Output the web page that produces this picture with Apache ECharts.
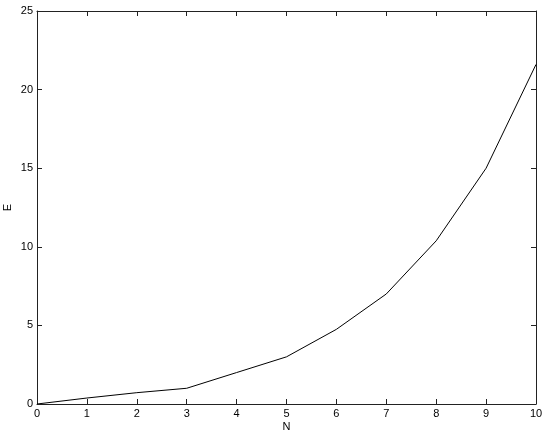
<!DOCTYPE html>
<html>
<head>
<meta charset="utf-8">
<script src="https://cdn.jsdelivr.net/npm/echarts@6/dist/echarts.min.js"></script>
<style>
  html, body { margin: 0; padding: 0; background: #fff; }
  #chart { width: 545px; height: 436px; }
</style>
</head>
<body>
<div id="chart"></div>
<script>
// values
var nValues = [0, 1, 2, 3, 4, 5, 6, 7, 8, 9, 10];
var eValues = [0, 0.38, 0.72, 1.0, 2.0, 3.0, 4.75, 7.0, 10.38, 15.0, 21.6];

var points = nValues.map(function (n, i) { return [n, eValues[i]]; });

var chart = echarts.init(document.getElementById('chart'));

var axisCommon = {
  type: 'value',
  axisLine: { show: true, onZero: false, lineStyle: { color: '#222', width: 1 } },
  axisTick: { show: true, inside: true, length: 5, lineStyle: { color: '#222' } },
  splitLine: { show: false },
  axisLabel: { color: '#000', fontFamily: 'Liberation Sans', fontSize: 11 }
};

chart.setOption({
  animation: false,
  grid: { left: 37, right: 9, top: 11, bottom: 32, containLabel: false, outerBoundsMode: 'none' },
  xAxis: [
    Object.assign({}, axisCommon, {
      min: 0, max: 10, interval: 1, position: 'bottom',
      name: 'N', nameLocation: 'middle', nameGap: 17, nameMoveOverlap: false,
      nameTextStyle: { color: '#000', fontFamily: 'Liberation Sans', fontSize: 11 },
      axisLabel: Object.assign({}, axisCommon.axisLabel, { margin: 4 })
    }),
    Object.assign({}, axisCommon, {
      min: 0, max: 10, interval: 1, position: 'top',
      axisLabel: { show: false }
    })
  ],
  yAxis: [
    Object.assign({}, axisCommon, {
      min: 0, max: 25, interval: 5, position: 'left',
      name: 'E', nameLocation: 'middle', nameGap: 24, nameMoveOverlap: false,
      nameTextStyle: { color: '#000', fontFamily: 'Liberation Sans', fontSize: 11 },
      axisLabel: Object.assign({}, axisCommon.axisLabel, { margin: 4 })
    }),
    Object.assign({}, axisCommon, {
      min: 0, max: 25, interval: 5, position: 'right',
      axisLabel: { show: false }
    })
  ],
  series: [{
    type: 'line',
    data: points,
    showSymbol: false,
    lineStyle: { color: '#000', width: 1 }
  }]
});
</script>
</body>
</html>
